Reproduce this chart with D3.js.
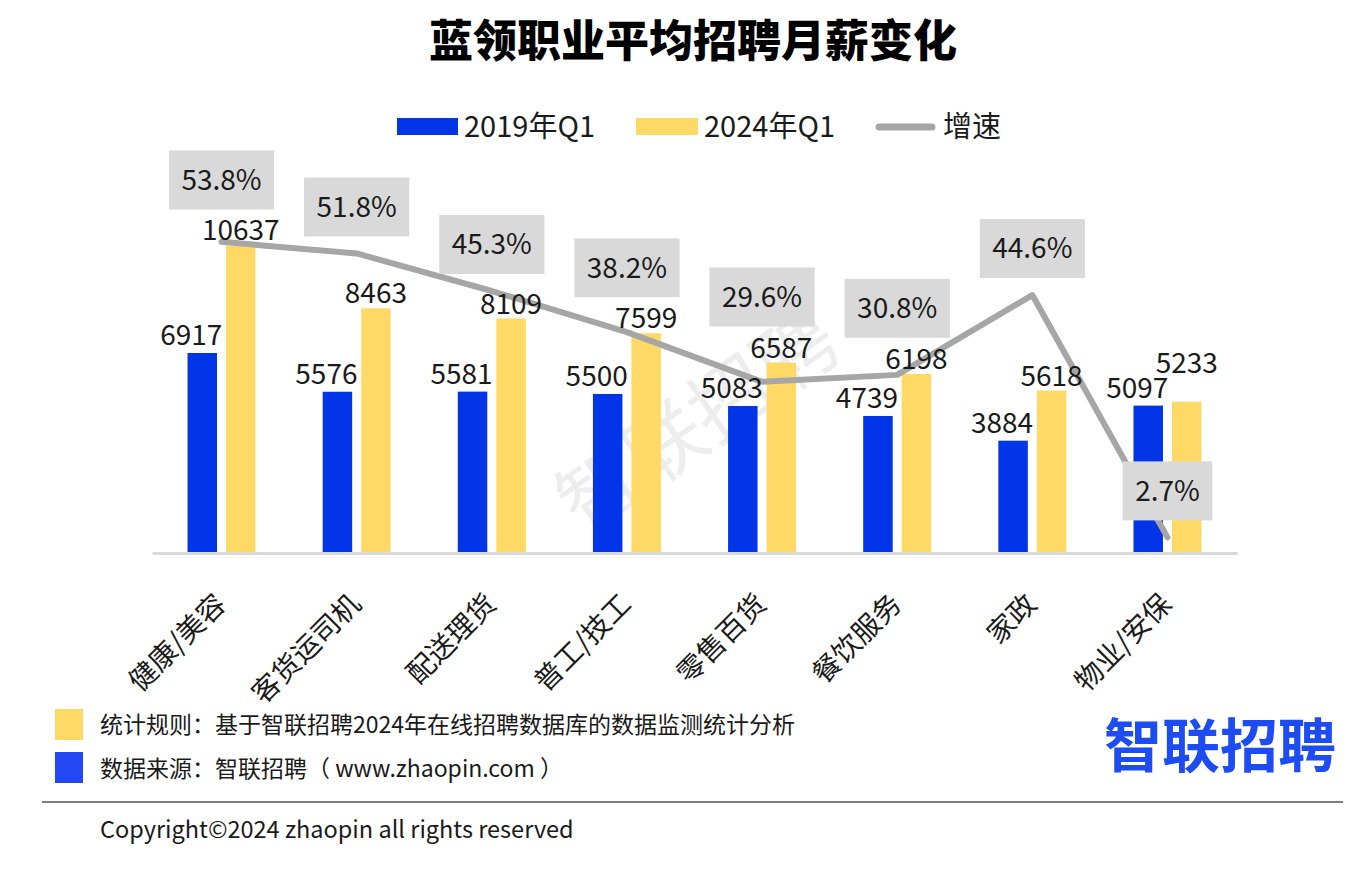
<!DOCTYPE html>
<html>
<head>
<meta charset="utf-8">
<script src="https://cdn.jsdelivr.net/npm/d3@7"></script>
<style>
  html, body { margin: 0; padding: 0; background: #ffffff; }
  svg { display: block; }
  text { font-family: "Noto Sans CJK SC", "Noto Sans", sans-serif; }
</style>
</head>
<body>
<svg id="chart" width="1355" height="869"></svg>
<script>
// ---------- data ----------
const title = "蓝领职业平均招聘月薪变化";
const categories = ["健康/美容", "客货运司机", "配送理货", "普工/技工", "零售百货", "餐饮服务", "家政", "物业/安保"];
const series2019 = [6917, 5576, 5581, 5500, 5083, 4739, 3884, 5097];
const series2024 = [10637, 8463, 8109, 7599, 6587, 6198, 5618, 5233];
const growthRate = [53.8, 51.8, 45.3, 38.2, 29.6, 30.8, 44.6, 2.7];
const seriesNames = ["2019年Q1", "2024年Q1", "增速"];
const footnotes = ["统计规则：基于智联招聘2024年在线招聘数据库的数据监测统计分析", "数据来源：智联招聘（ www.zhaopin.com ）"];
const copyright = "Copyright©2024 zhaopin all rights reserved";
const logoText = "智联招聘";

// ---------- styles ----------
const BLUE = "#0335E8", YELLOW = "#FFD966", GRAY_LINE = "#A6A6A6", BOX = "#D9D9D9";
const svg = d3.select("#chart");

// ---------- scales ----------
const x = d3.scaleBand().domain(categories).range([152, 1237]).paddingInner(0).paddingOuter(0.0145);
const bw = x.bandwidth();
const xs = d3.scaleBand().domain(["s2019", "s2024"]).range([bw / 2 - 34, bw / 2 + 34]).paddingInner(0.234);
const y = d3.scaleLinear().domain([0, 12000]).range([553, 206]);
const y2 = d3.scaleLinear().domain([0, 60]).range([553, 206]);
const cx = c => x(c) + bw / 2;

// ---------- title ----------
svg.append("text").attr("x", 693).attr("y", 57).attr("text-anchor", "middle")
  .attr("font-size", 44).attr("font-weight", 900).attr("fill", "#000").text(title);

// ---------- watermark ----------
svg.append("text").attr("transform", "translate(698,422) rotate(-35)")
  .attr("text-anchor", "middle").attr("dy", "0.35em")
  .attr("font-size", 80).attr("fill", "#000").attr("fill-opacity", 0.07).text(logoText);

// ---------- legend ----------
const lg = svg.append("g");
lg.append("rect").attr("x", 397).attr("y", 118).attr("width", 61).attr("height", 17).attr("fill", BLUE);
lg.append("text").attr("x", 464).attr("y", 127).attr("dy", "0.35em").attr("font-size", 29).attr("fill", "#1a1a1a").text(seriesNames[0]);
lg.append("rect").attr("x", 636).attr("y", 118).attr("width", 62).attr("height", 17).attr("fill", YELLOW);
lg.append("text").attr("x", 704).attr("y", 127).attr("dy", "0.35em").attr("font-size", 29).attr("fill", "#1a1a1a").text(seriesNames[1]);
lg.append("line").attr("x1", 879).attr("x2", 932).attr("y1", 127).attr("y2", 127)
  .attr("stroke", GRAY_LINE).attr("stroke-width", 7).attr("stroke-linecap", "round");
lg.append("text").attr("x", 943).attr("y", 127).attr("dy", "0.35em").attr("font-size", 29).attr("fill", "#1a1a1a").text(seriesNames[2]);

// ---------- bars ----------
const rows = categories.map((c, i) => ({ c, v19: series2019[i], v24: series2024[i], g: growthRate[i] }));
const bars = svg.append("g");
bars.selectAll("rect.b19").data(rows).join("rect").attr("class", "b19")
  .attr("x", d => x(d.c) + xs("s2019")).attr("width", xs.bandwidth())
  .attr("y", d => y(d.v19)).attr("height", d => y(0) - y(d.v19)).attr("fill", BLUE);
bars.selectAll("rect.b24").data(rows).join("rect").attr("class", "b24")
  .attr("x", d => x(d.c) + xs("s2024")).attr("width", xs.bandwidth())
  .attr("y", d => y(d.v24)).attr("height", d => y(0) - y(d.v24)).attr("fill", YELLOW);

// ---------- category axis ----------
const axisG = svg.append("g").attr("transform", `translate(0,${y(0)})`)
  .call(d3.axisBottom(x).tickSize(0).tickSizeOuter(0));
axisG.select(".domain").attr("stroke", "#D9D9D9").attr("stroke-width", 3);
axisG.selectAll(".tick text")
  .attr("x", 0).attr("y", 0).attr("dy", "0.35em")
  .attr("transform", "translate(-1,46) rotate(-45)")
  .attr("text-anchor", "end").attr("font-size", 28).attr("fill", "#1a1a1a")
  .attr("font-family", "Noto Sans CJK SC");

// ---------- growth line ----------
const line = d3.line().x(d => cx(d.c)).y(d => y2(d.g));
svg.append("path").datum(rows).attr("d", line).attr("fill", "none")
  .attr("stroke", GRAY_LINE).attr("stroke-width", 6)
  .attr("stroke-linejoin", "round").attr("stroke-linecap", "round");

// ---------- bar value labels ----------
const FS = 28, CAP = 21;
const labelG = svg.append("g");
const labelBoxes = [];
rows.forEach(d => {
  const bx19 = x(d.c) + xs("s2019") + xs.bandwidth() / 2 - 11;
  const bx24 = x(d.c) + xs("s2024") + xs.bandwidth() / 2;
  const t19 = labelG.append("text").attr("x", bx19).attr("y", y(d.v19) - 8)
    .attr("text-anchor", "middle").attr("font-size", FS).attr("fill", "#1a1a1a").text(d.v19);
  const w19 = t19.node().getComputedTextLength();
  const box19 = { x0: bx19 - w19 / 2, x1: bx19 + w19 / 2, y0: y(d.v19) - 8 - CAP, y1: y(d.v19) - 8 };
  let base24 = y(d.v24) - 5;
  const t24 = labelG.append("text").attr("x", bx24)
    .attr("text-anchor", "middle").attr("font-size", FS).attr("fill", "#1a1a1a").text(d.v24);
  const w24 = t24.node().getComputedTextLength();
  const overlapX = (bx24 - w24 / 2) < box19.x1 && (bx24 + w24 / 2) > box19.x0;
  const overlapY = (base24 - CAP) < box19.y1 && base24 > box19.y0;
  if (overlapX && overlapY) base24 = box19.y0 - 4;
  t24.attr("y", base24);
  labelBoxes.push(box19, { x0: bx24 - w24 / 2, x1: bx24 + w24 / 2, y0: base24 - CAP, y1: base24 });
});

// ---------- growth labels (gray boxes) ----------
const pctG = svg.append("g");
rows.forEach(d => {
  const px = cx(d.c), py = y2(d.g);
  const t = pctG.append("text").attr("text-anchor", "middle").attr("font-size", FS)
    .attr("fill", "#1a1a1a").text(d.g.toFixed(1) + "%");
  const w = t.node().getComputedTextLength() + 25, h = 59;
  let bottom = py - 17;
  for (let k = 0; k < 3; k++) {
    labelBoxes.forEach(b => {
      const ox = (px - w / 2) < b.x1 && (px + w / 2) > b.x0;
      const oy = (bottom - h) < b.y1 && bottom > b.y0;
      if (ox && oy) bottom = b.y0 - 10;
    });
  }
  pctG.insert("rect", "text").attr("x", px - w / 2).attr("y", bottom - h)
    .attr("width", w).attr("height", h).attr("fill", BOX);
  t.attr("x", px).attr("y", bottom - h / 2).attr("dy", "0.35em");
  t.raise();
});

// ---------- footer ----------
const ft = svg.append("g");
ft.append("rect").attr("x", 55).attr("y", 709).attr("width", 28).attr("height", 31).attr("fill", YELLOW);
ft.append("rect").attr("x", 55).attr("y", 752).attr("width", 28).attr("height", 31).attr("fill", "#2347F2");
ft.append("text").attr("x", 100).attr("y", 725).attr("dy", "0.35em").attr("font-size", 23).attr("fill", "#1a1a1a").text(footnotes[0]);
ft.append("text").attr("x", 100).attr("y", 769).attr("dy", "0.35em").attr("font-size", 23).attr("fill", "#1a1a1a").text(footnotes[1]);
ft.append("line").attr("x1", 42).attr("x2", 1343).attr("y1", 802).attr("y2", 802).attr("stroke", "#555").attr("stroke-width", 1.5);
ft.append("text").attr("x", 100).attr("y", 830).attr("dy", "0.35em").attr("font-size", 23.5).attr("fill", "#1a1a1a").text(copyright);

// logo
ft.append("text").attr("x", 1220).attr("y", 767).attr("text-anchor", "middle")
  .attr("font-size", 58).attr("font-weight", 700).attr("fill", "#1C4CF2").text(logoText);
</script>
</body>
</html>
